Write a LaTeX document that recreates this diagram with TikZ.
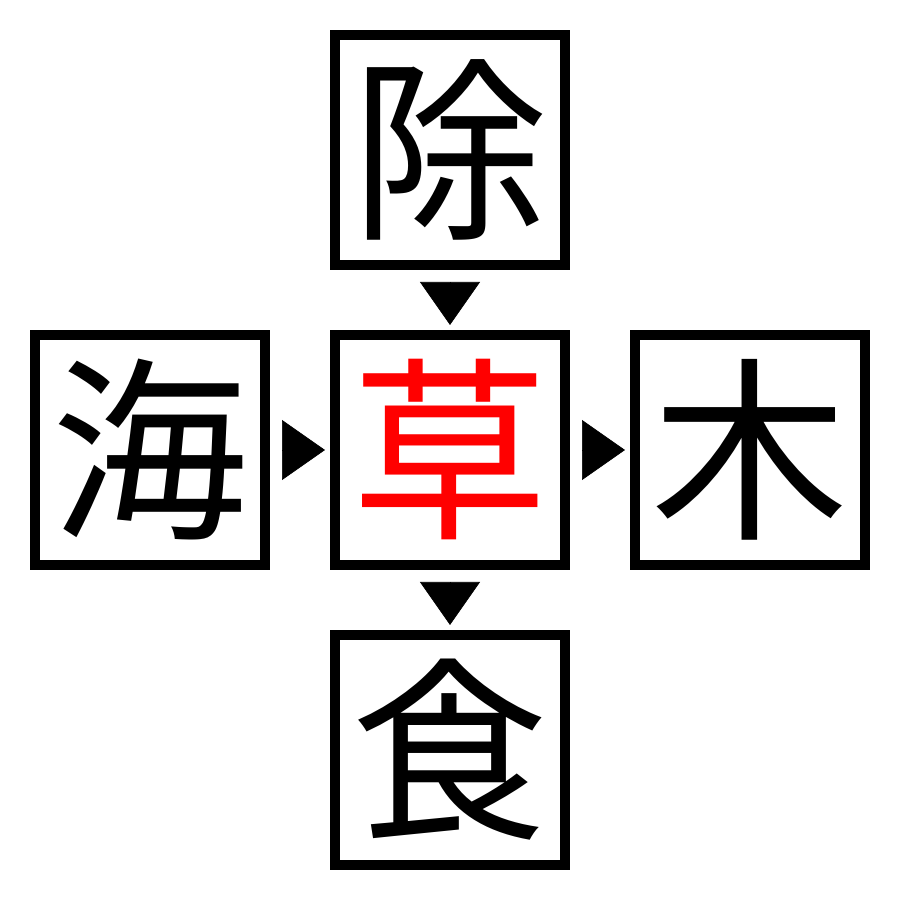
\documentclass[tikz,border=0pt]{standalone}
\usepackage{fontspec}
\newfontfamily\jpfont{Noto Sans CJK JP}
\usetikzlibrary{arrows.meta}

\begin{document}
\begin{tikzpicture}[align=center]
\tikzstyle{box} = [draw=black, line width=1mm, minimum size=23mm, inner sep=0pt, font=\jpfont\fontsize{56}{56}\selectfont]
\tikzstyle{arr} = [draw=black, line width=0.2pt, -{Triangle[length=4.3mm, width=6mm]}, shorten <=2.2mm, shorten >=0.5mm]

\useasboundingbox (0, 0) rectangle (9, 9);

\node[box](top) at (4.5, 7.5) {除};
\node[box](mid) at (4.5, 4.5) {\textcolor{red}{草}};
\node[box](lft) at (1.5, 4.5) {海};
\node[box](rgt) at (7.5, 4.5) {木};
\node[box](bot) at (4.5, 1.5) {食};

\draw[arr] (top) to (mid);
\draw[arr] (lft) to (mid);
\draw[arr] (mid) to (rgt);
\draw[arr] (mid) to (bot);
\end{tikzpicture}
\end{document}
